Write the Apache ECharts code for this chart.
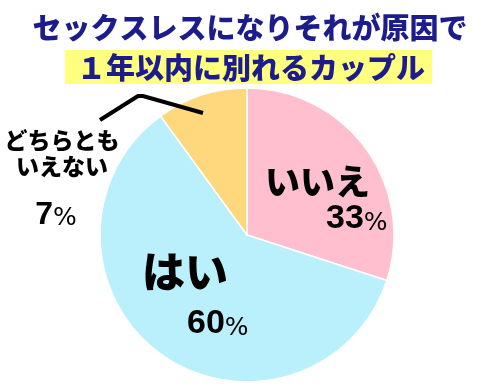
<!DOCTYPE html>
<html><head><meta charset="utf-8">
<script src="https://cdn.jsdelivr.net/npm/echarts@6/dist/echarts.min.js"></script>
<style>html,body{margin:0;padding:0;background:#fff}#c{width:500px;height:390px}</style>
</head><body><div id="c"></div>
<script>
// ---- data ----
const titleLine1 = 'セックスレスになりそれが原因で';
const titleLine2 = '１年以内に別れるカップル';
const categories = ['いいえ', 'はい', 'どちらとも\nいえない'];
const sliceValues = [30, 60, 10];          // slice sizes as drawn in the picture
const percentLabels = ['33', '60', '7'];   // printed percentages

// ---- styles / layout ----
const sliceColors = ['#FFBFCE', '#BAEFFC', '#FFD77D'];
const JP = '"Noto Sans CJK JP", "Noto Sans CJK SC", sans-serif';
const NUM = '"Liberation Sans Narrow", "Liberation Sans", sans-serif';
const labelLayouts = [
  { x: 265, y: 162, align: 'left' },
  { x: 142, y: 249, align: 'left' },
  { x: 62, y: 127, align: 'center' }
];
const leaderLine = [[100, 120], [138, 96], [143, 96], [203, 113]];

const chart = echarts.init(document.getElementById('c'), null, { renderer: 'canvas' });

const data = categories.map((name, i) => ({ name: name, value: sliceValues[i], itemStyle: { color: sliceColors[i] } }));

const pcStyle = (lh, pad) => ({ fontFamily: 'DejaVu Sans', fontSize: 25, lineHeight: lh, color: '#000', verticalAlign: 'bottom', padding: pad || 0 });

const option = {
  animation: false,
  title: [
    {
      text: titleLine1, left: 'center', top: 13, padding: 0,
      textStyle: { fontFamily: JP, fontSize: 29, fontWeight: 900, color: '#1c1c8c', lineHeight: 30 }
    },
    {
      text: titleLine2, left: 65, top: 50, padding: [3, 7, 2, 12], backgroundColor: '#FFFF80',
      textStyle: { fontFamily: JP, fontSize: 29, fontWeight: 900, color: '#1c1c8c', lineHeight: 29 }
    }
  ],
  graphic: [{
    type: 'polyline', z: 100,
    shape: { points: leaderLine },
    style: { stroke: '#000', lineWidth: 4, fill: null, lineJoin: 'miter' }
  }],
  series: [{
    type: 'pie',
    center: [247, 235],
    radius: [0, 147],
    startAngle: 90,
    clockwise: true,
    avoidLabelOverlap: false,
    emphasis: { disabled: true },
    itemStyle: { borderColor: '#fff', borderWidth: 1.5 },
    labelLine: { show: false },
    data: data,
    label: {
      show: true,
      position: 'inside',
      formatter: function (p) {
        const i = p.dataIndex;
        const lines = categories[i].split('\n').map(s => '{n' + i + '|' + s + '}').join('\n');
        return lines + '\n{p' + i + '|' + percentLabels[i] + '}{pc' + i + '|%}';
      },
      rich: {
        n0: { fontFamily: JP, fontWeight: 900, fontSize: 35, lineHeight: 40, color: '#000' },
        p0: { fontFamily: NUM, fontWeight: 'bold', fontSize: 34, lineHeight: 34, color: '#000', padding: [0, 0, 0, 61], verticalAlign: 'bottom' },
        pc0: pcStyle(34),
        n1: { fontFamily: JP, fontWeight: 900, fontSize: 43, lineHeight: 46, color: '#000' },
        p1: { fontFamily: NUM, fontWeight: 'bold', fontSize: 34, lineHeight: 46, color: '#000', padding: [0, 0, 0, 45], verticalAlign: 'bottom' },
        pc1: pcStyle(46),
        n2: { fontFamily: JP, fontWeight: 900, fontSize: 23, lineHeight: 26, color: '#000' },
        p2: { fontFamily: NUM, fontWeight: 'bold', fontSize: 32, lineHeight: 52, color: '#000', verticalAlign: 'bottom' },
        pc2: pcStyle(52, [0, 12, 0, 0])
      }
    },
    labelLayout: function (params) {
      const L = labelLayouts[params.dataIndex];
      return { x: L.x, y: L.y, align: L.align, verticalAlign: 'top' };
    }
  }]
};
chart.setOption(option);
</script>
</body></html>
